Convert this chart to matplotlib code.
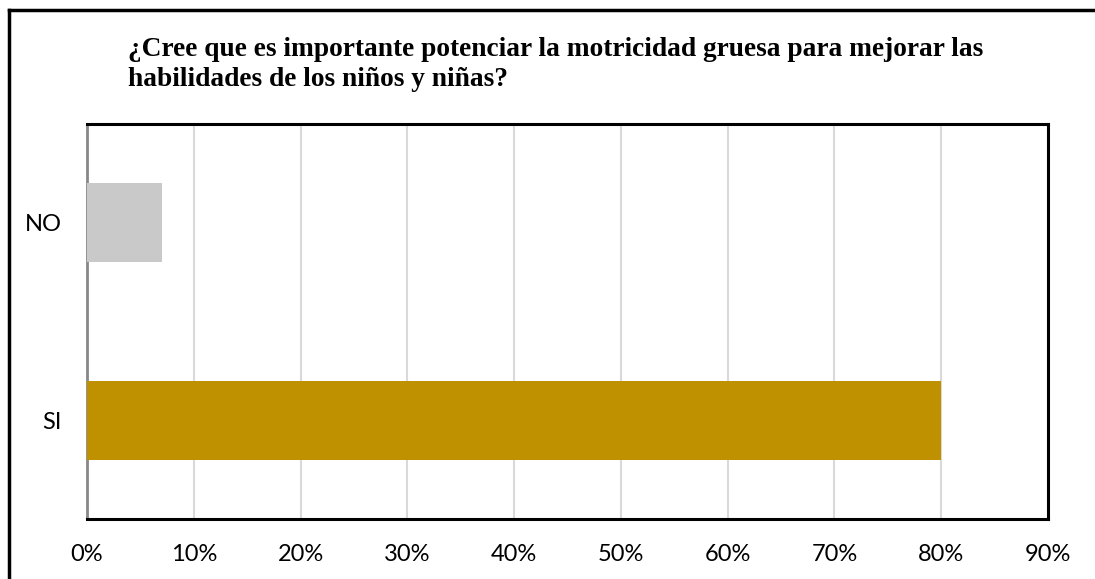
import matplotlib
matplotlib.use("Agg")
import matplotlib.pyplot as plt
from matplotlib.lines import Line2D

# datos
categorias = ["SI", "NO"]
porcentajes = [80, 7]
colores = ["#BF9000", "#C9C9C9"]
ticks_x = [0, 10, 20, 30, 40, 50, 60, 70, 80, 90]
etiquetas_x = [f"{t}%" for t in ticks_x]
titulo = ("¿Cree que es importante potenciar la motricidad gruesa para mejorar las\n"
          "habilidades de los niños y niñas?")

fig = plt.figure(figsize=(10.95, 5.79), dpi=100)
ax = fig.add_axes([87 / 1095, 1 - 519 / 579, (1048 - 87) / 1095, (519 - 124) / 579])

ax.barh(range(len(categorias)), porcentajes, height=0.4, color=colores, zorder=3)
ax.set_xlim(0, 90)
ax.set_ylim(-0.5, 1.5)
ax.set_xticks(ticks_x)
ax.set_xticklabels(etiquetas_x)
ax.set_yticks(range(len(categorias)))
ax.set_yticklabels(categorias)
ax.tick_params(length=0, labelsize=17)
ax.tick_params(axis="x", pad=18)
ax.tick_params(axis="y", pad=18)
for lab in ax.get_xticklabels() + ax.get_yticklabels():
    lab.set_fontfamily("Lato")
ax.grid(axis="x", color="#D9D9D9", lw=1.5, zorder=0)

for s in ["top", "right", "bottom"]:
    ax.spines[s].set_color("black")
    ax.spines[s].set_linewidth(2.2)
ax.spines["left"].set_color("#888888")
ax.spines["left"].set_linewidth(2)

# titulo
fig.text(128 / 1095, 1 - 37 / 579, titulo, ha="left", va="top",
         fontsize=19.7, fontweight="bold", family="Liberation Serif", linespacing=1.25)

# borde del grafico (solo arriba e izquierda visibles)
fig.add_artist(Line2D([9 / 1095, 1], [1 - 10 / 579, 1 - 10 / 579], transform=fig.transFigure, color="black", lw=2.5))
fig.add_artist(Line2D([9 / 1095, 9 / 1095], [0, 1 - 10 / 579], transform=fig.transFigure, color="black", lw=2.5))

fig.savefig("out.png", dpi=100)
